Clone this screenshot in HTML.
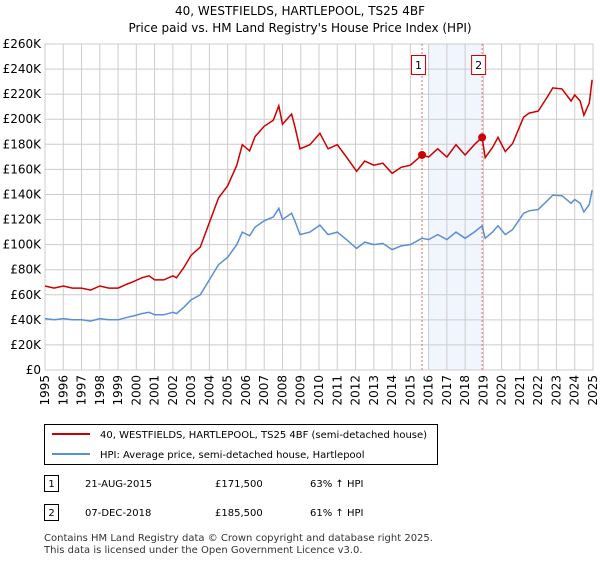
<!DOCTYPE html>
<html><head><meta charset="utf-8"><style>
body{margin:0;background:#fff;font-family:"Liberation Sans","DejaVu Sans",sans-serif;}
svg text{font-family:"DejaVu Sans","Liberation Sans",sans-serif;}
</style></head><body>
<svg id="chart" width="600" height="560" viewBox="0 0 600 560">
<text x="300" y="15" text-anchor="middle" font-size="12">40, WESTFIELDS, HARTLEPOOL, TS25 4BF</text>
<text x="300" y="32" text-anchor="middle" font-size="12">Price paid vs. HM Land Registry's House Price Index (HPI)</text>
<g id="grid"></g><g id="series"></g>
<g>
<rect x="44.5" y="424.5" width="393" height="40" fill="#fff" stroke="#000"/>
<line x1="52" y1="434" x2="90" y2="434" stroke="#cc0000" stroke-width="2"/>
<text x="100" y="438" font-size="10">40, WESTFIELDS, HARTLEPOOL, TS25 4BF (semi-detached house)</text>
<line x1="52" y1="454" x2="90" y2="454" stroke="#5b8fd4" stroke-width="2"/>
<text x="100" y="458" font-size="10">HPI: Average price, semi-detached house, Hartlepool</text>
</g>
<g font-size="10">
<rect x="44.5" y="475.5" width="14" height="16" fill="#fff" stroke="#000"/><text x="51.5" y="487" text-anchor="middle">1</text>
<text x="85" y="487">21-AUG-2015</text><text x="215" y="487">£171,500</text><text x="310" y="487">63% ↑ HPI</text>
<rect x="44.5" y="504.5" width="14" height="16" fill="#fff" stroke="#000"/><text x="51.5" y="516" text-anchor="middle">2</text>
<text x="85" y="516">07-DEC-2018</text><text x="215" y="516">£185,500</text><text x="310" y="516">61% ↑ HPI</text>
</g>
<text x="44" y="541" font-size="10" fill="#333">Contains HM Land Registry data © Crown copyright and database right 2025.</text>
<text x="44" y="553" font-size="10" fill="#333">This data is licensed under the Open Government Licence v3.0.</text>
</svg>
<script>
const hpiYears=[1995,1995.5,1996,1996.5,1997,1997.5,1998,1998.5,1999,1999.5,1999.8,2000.3,2000.7,2001,2001.5,2002,2002.2,2002.6,2003,2003.5,2004,2004.5,2005,2005.5,2005.8,2006.2,2006.5,2007,2007.5,2007.8,2008.0,2008.5,2008.7,2008.96,2009.5,2010.05,2010.5,2011,2011.5,2012.06,2012.5,2013,2013.5,2014,2014.5,2015,2015.64,2016,2016.5,2017,2017.5,2018,2018.5,2018.93,2019.1,2019.5,2019.8,2020.2,2020.6,2021.2,2021.5,2022,2022.5,2022.8,2023.3,2023.8,2024,2024.3,2024.5,2024.8,2024.95];
const hpiValues=[41,40,41,40,40,39,41,40,40,42,43,45,46,44,44,46,45,50,56,60,72,84,90,100,110,107,114,119,122,129,120,125,118,108,110,115.6,108,110,104,97,102,100,101,96,99,100,105,104,108,104,110,105,110,115,105,110,115,108,112,125,127,128,135,139.5,139,133,136,133,126,132,143.5];
const saleYears=[2015.64,2018.93];
const salePrices=[171.5,185.5];
const yTicks=[0,20,40,60,80,100,120,140,160,180,200,220,240,260];
const xTicks=[1995,1996,1997,1998,1999,2000,2001,2002,2003,2004,2005,2006,2007,2008,2009,2010,2011,2012,2013,2014,2015,2016,2017,2018,2019,2020,2021,2022,2023,2024,2025];
const X0=45,X1=593,Y0=370,Y1=44;
const xs=y=>X0+(y-1995)/30*(X1-X0);
const ys=v=>Y0-v/260*(Y0-Y1);
const NS='http://www.w3.org/2000/svg';
function mk(t,a,p){const e=document.createElementNS(NS,t);for(const k in a)e.setAttribute(k,a[k]);p.appendChild(e);return e;}
const g=document.getElementById('grid'),s=document.getElementById('series');
const sh=mk('rect',{x:xs(2016),y:Y1,width:xs(saleYears[1])-xs(2016),height:Y0-Y1,fill:'#eef3fd',opacity:0.8},g);


yTicks.forEach(v=>{
 mk('line',{x1:X0,x2:X1,y1:ys(v),y2:ys(v),stroke:'#cccccc'},g);
 const t=mk('text',{x:X0-4,y:ys(v)+4,'text-anchor':'end','font-size':12},g);t.textContent=v===0?'£0':'£'+v+'K';
 
 
});
xTicks.forEach(v=>{
 mk('line',{x1:xs(v),x2:xs(v),y1:Y1,y2:Y0,stroke:'#cccccc'},g);
 const t=mk('text',{x:0,y:0,'text-anchor':'end','font-size':12,transform:`translate(${xs(v)+4},${Y0+5}) rotate(-90)`},g);t.textContent=v;
 
 
});
mk('rect',{x:X0,y:Y1,width:X1-X0,height:Y0-Y1,fill:'none',stroke:'#cccccc'},g);
saleYears.forEach((y,i)=>{
 const l=mk('line',{x1:xs(y),x2:xs(y),y1:Y1,y2:Y0,stroke:'#ee6666','stroke-dasharray':'2,2'},g);
 
 
 const r=mk('rect',{x:xs(y)-10.5,y:55.5,width:14,height:19,fill:'#fff',stroke:'#cc0000'},g);
 
 
 const t=mk('text',{x:xs(y)-3.5,y:69,'text-anchor':'middle','font-size':11},g);t.textContent=i+1;
});
const hp=hpiYears.map((y,i)=>xs(y).toFixed(1)+','+ys(hpiValues[i]).toFixed(1)).join(' ');
const hl=mk('polyline',{points:hp,fill:'none',stroke:'#5b8fd4','stroke-width':1.5},s);


function hpiAt(y){for(let i=0;i<hpiYears.length-1;i++){if(y<=hpiYears[i+1]){const f=(y-hpiYears[i])/(hpiYears[i+1]-hpiYears[i]);return hpiValues[i]+f*(hpiValues[i+1]-hpiValues[i]);}}return hpiValues[hpiValues.length-1];}
const k1=salePrices[0]/hpiAt(saleYears[0]),k2=salePrices[1]/hpiAt(saleYears[1]);
const rp=hpiYears.map((y,i)=>{const k=y<saleYears[1]?k1:k2;return xs(y).toFixed(1)+','+ys(hpiValues[i]*k).toFixed(1);}).join(' ');
const rl=mk('polyline',{points:rp,fill:'none',stroke:'#cc0000','stroke-width':1.5},s);


saleYears.forEach((y,i)=>{
 const c=mk('circle',{cx:xs(y),cy:ys(salePrices[i]),r:4,fill:'#cc0000'},s);
 
 
});
</script>
</body></html>
